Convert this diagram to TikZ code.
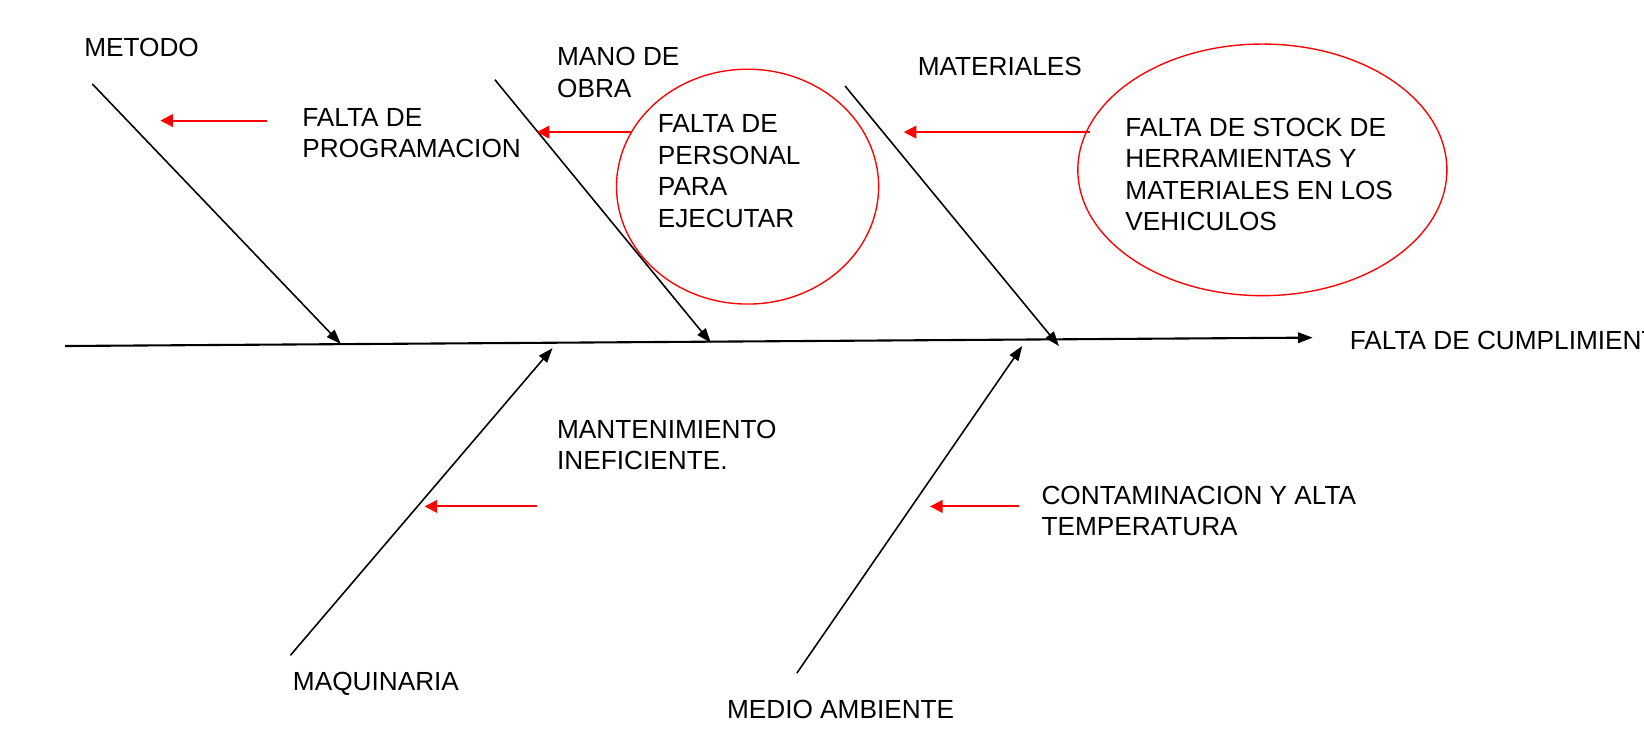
\documentclass[tikz,border=0pt]{standalone}
\usepackage{fontspec}
\setmainfont{Liberation Sans}
\usetikzlibrary{arrows.meta,shapes.geometric}
\begin{document}
\begin{tikzpicture}[x=0.5pt,y=-0.5pt,
  lbl/.style={anchor=north west, inner sep=0pt, align=left, font=\fontsize{12.5}{15}\selectfont},
  bone/.style={draw=black, line width=0.75pt, -{Triangle[length=7pt,width=5pt]}},
  spine/.style={draw=black, line width=1pt, -{Triangle[length=7pt,width=5pt]}},
  cause/.style={draw=red, line width=1pt, -{Triangle[length=6pt,width=6pt]}},
  oval/.style={draw=red, line width=0.65pt, ellipse, inner sep=0pt}]
\useasboundingbox (0,0) rectangle (1568,698);
\clip (0,0) rectangle (1568,698);
\fill[white] (0,0) rectangle (1568,698);

% ovals
\node[oval, minimum width=125pt, minimum height=112pt] (e1) at (713,178) {};
\node[oval, minimum width=176pt, minimum height=120pt] (e2) at (1204,162) {};

% texts
\node[lbl] (metodo) at (80,36) {METODO};
\node[lbl] (mano) at (531,45) {MANO DE\\OBRA};
\node[lbl] (materiales) at (875,54) {MATERIALES};
\node[lbl] (maquinaria) at (279,641) {MAQUINARIA};
\node[lbl] (medio) at (693,667) {MEDIO AMBIENTE};
\node[lbl] (efecto) at (1287,315) {FALTA DE CUMPLIMIENTO};
\node[lbl] (c1) at (288,103) {FALTA DE\\PROGRAMACION};
\node[lbl] (c2) at (627,109) {FALTA DE\\PERSONAL\\PARA\\EJECUTAR};
\node[lbl] (c3) at (1073,112) {FALTA DE STOCK DE\\HERRAMIENTAS Y\\MATERIALES EN LOS\\VEHICULOS};
\node[lbl] (c4) at (531,400) {MANTENIMIENTO\\INEFICIENTE.};
\node[lbl] (c5) at (993,463) {CONTAMINACION Y ALTA\\TEMPERATURA};

% coordinates
\coordinate (sL) at (62,330);
\coordinate (sR) at (1252,322);
\coordinate (m1s) at (88,80);   \coordinate (m1e) at (325,328);
\coordinate (m2s) at (472,76);  \coordinate (m2e) at (678,327);
\coordinate (m3s) at (806,82);  \coordinate (m3e) at (1010,330);
\coordinate (m4s) at (277,625); \coordinate (m4e) at (527,332);
\coordinate (m5s) at (760,642); \coordinate (m5e) at (975,330);

\coordinate (r1s) at (255,115); \coordinate (r1e) at (153,115);
\coordinate (r2s) at (603,126); \coordinate (r2e) at (512,126);
\coordinate (r3s) at (1040,126); \coordinate (r3e) at (862,126);
\coordinate (r4s) at (512,483); \coordinate (r4e) at (405,483);
\coordinate (r5s) at (972,483); \coordinate (r5e) at (887,483);

% spine and bones
\draw[spine] (sL) -- (sR);
\draw[bone] (m1s) -- (m1e);
\draw[bone] (m2s) -- (m2e);
\draw[bone] (m3s) -- (m3e);
\draw[bone] (m4s) -- (m4e);
\draw[bone] (m5s) -- (m5e);

% red cause arrows
\draw[cause] (r1s) -- (r1e);
\draw[cause] (r2s) -- (r2e);
\draw[cause] (r3s) -- (r3e);
\draw[cause] (r4s) -- (r4e);
\draw[cause] (r5s) -- (r5e);
\end{tikzpicture}
\end{document}
